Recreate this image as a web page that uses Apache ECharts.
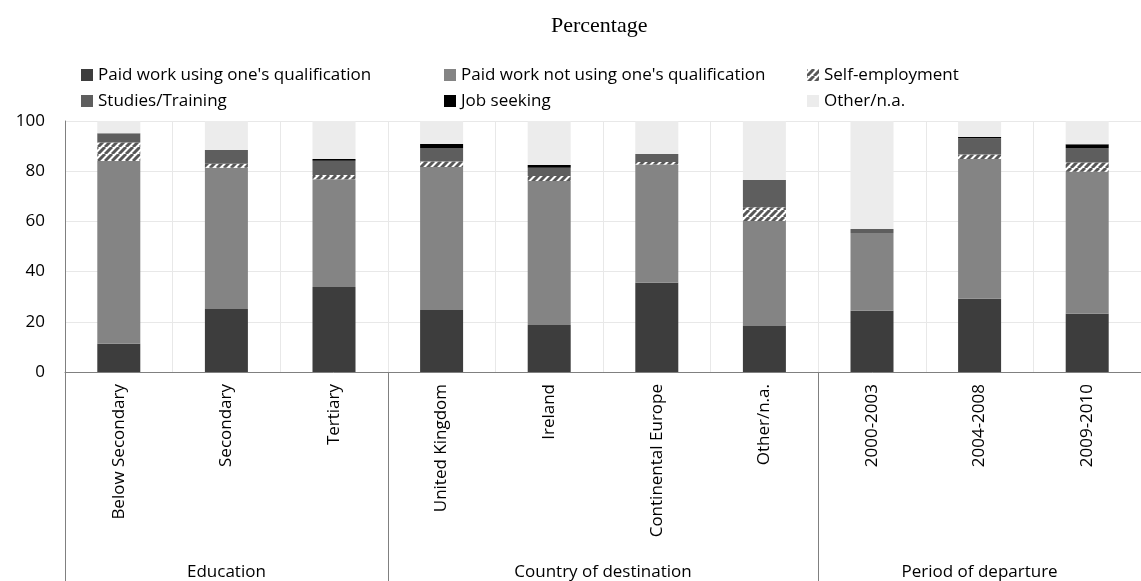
<!DOCTYPE html>
<html>
<head>
<meta charset="utf-8">
<script src="https://cdn.jsdelivr.net/npm/echarts@6/dist/echarts.min.js"></script>
<style>
html,body{margin:0;padding:0;background:#fff;}
#chart{width:1141px;height:581px;}
</style>
</head>
<body>
<div id="chart"></div>
<script>
// ---- data ----
const categories = ['Below Secondary','Secondary','Tertiary','United Kingdom','Ireland','Continental Europe','Other/n.a.','2000-2003','2004-2008','2009-2010'];
const groups = ['Education','Country of destination','Period of departure'];
const groupSizes = [3, 4, 3];
const yTicks = [0, 20, 40, 60, 80, 100];

const paidUsing    = [11.3, 25.1, 33.9, 24.7, 18.7, 35.6, 18.3, 24.4, 29.2, 23.2];
const paidNotUsing = [72.8, 56.3, 42.9, 57.0, 57.4, 47.1, 41.9, 31.0, 55.7, 56.6];
const selfEmployed = [7.3, 1.6, 1.7, 2.2, 2.0, 1.0, 5.4, 0, 1.8, 3.7];
const studies      = [3.7, 5.4, 5.7, 5.3, 3.3, 3.2, 10.9, 1.6, 6.4, 5.7];
const jobSeeking   = [0, 0, 0.7, 1.6, 1.1, 0, 0, 0, 0.5, 1.5];
const otherNA      = [4.9, 11.6, 15.1, 9.2, 17.5, 13.1, 23.5, 43.0, 6.4, 9.3];

const seriesNames = ["Paid work using one's qualification", "Paid work not using one's qualification", 'Self-employment', 'Studies/Training', 'Job seeking', 'Other/n.a.'];
const seriesData = [paidUsing, paidNotUsing, selfEmployed, studies, jobSeeking, otherNA];

// ---- hatch pattern ----
function makeHatch() {
  const c = document.createElement('canvas');
  const s = 7;
  c.width = s; c.height = s;
  const g = c.getContext('2d');
  g.fillStyle = '#ffffff';
  g.fillRect(0, 0, s, s);
  g.strokeStyle = '#575757';
  g.lineWidth = 3;
  g.beginPath();
  for (let k = -1; k <= 1; k++) {
    g.moveTo(k * s, s);
    g.lineTo(k * s + s, 0);
  }
  g.stroke();
  return c;
}
const hatch = { image: makeHatch(), repeat: 'repeat' };
const colors = ['#3d3d3d', '#848484', hatch, '#5e5e5e', '#000000', '#ececec'];

// group boundaries (category indices) and group label positions
const boundaries = [];
const centers = [];
let acc = 0;
groupSizes.forEach(n => { boundaries.push(acc); centers.push(acc + n / 2); acc += n; });

const chart = echarts.init(document.getElementById('chart'));
const font = 'Open Sans';

chart.setOption({
  animation: false,
  title: {
    text: 'Percentage',
    left: 546, top: 10,
    textStyle: { fontFamily: 'Liberation Serif', fontSize: 22, fontWeight: 'normal', color: '#000' }
  },
  legend: {
    left: 76, top: 57, width: 1100,
    itemWidth: 12, itemHeight: 12, itemGap: 0,
    icon: 'rect',
    data: seriesNames,
    textStyle: { fontFamily: font, fontSize: 17, color: '#000', width: 346, lineHeight: 26 }
  },
  grid: { left: 65, right: -14, top: 121, bottom: 209 },
  xAxis: [{
    type: 'category',
    data: categories,
    boundaryGap: true,
    axisLine: { show: true, lineStyle: { color: '#808080', width: 1 } },
    axisTick: {
      show: true, length: 209,
      interval: (i) => boundaries.indexOf(i) >= 0,
      lineStyle: { color: '#808080', width: 1 }
    },
    axisLabel: { rotate: 90, margin: 12, fontFamily: font, fontSize: 17, color: '#000', interval: 0 },
    splitLine: { show: true, interval: 0, lineStyle: { color: '#e8e8e8', width: 1 } }
  }, {
    type: 'value',
    min: 0, max: categories.length,
    position: 'bottom',
    offset: 186,
    axisLine: { show: false },
    axisTick: { show: false },
    splitLine: { show: false },
    axisLabel: {
      show: true, margin: 6,
      customValues: centers,
      formatter: (v) => groups[centers.indexOf(v)] || '',
      fontFamily: font, fontSize: 17, color: '#000'
    }
  }],
  yAxis: {
    type: 'value',
    min: yTicks[0], max: yTicks[yTicks.length - 1], interval: yTicks[1] - yTicks[0],
    axisLine: { show: true, lineStyle: { color: '#808080', width: 1 } },
    axisTick: { show: false },
    axisLabel: { margin: 20, fontFamily: font, fontSize: 17, color: '#000' },
    splitLine: { show: true, lineStyle: { color: '#e8e8e8', width: 1 } }
  },
  series: seriesNames.map((name, i) => ({
    name: name,
    type: 'bar',
    stack: 'total',
    xAxisIndex: 0,
    barWidth: 43,
    data: seriesData[i],
    itemStyle: { color: colors[i] },
    emphasis: { disabled: true }
  }))
});
</script>
</body>
</html>
